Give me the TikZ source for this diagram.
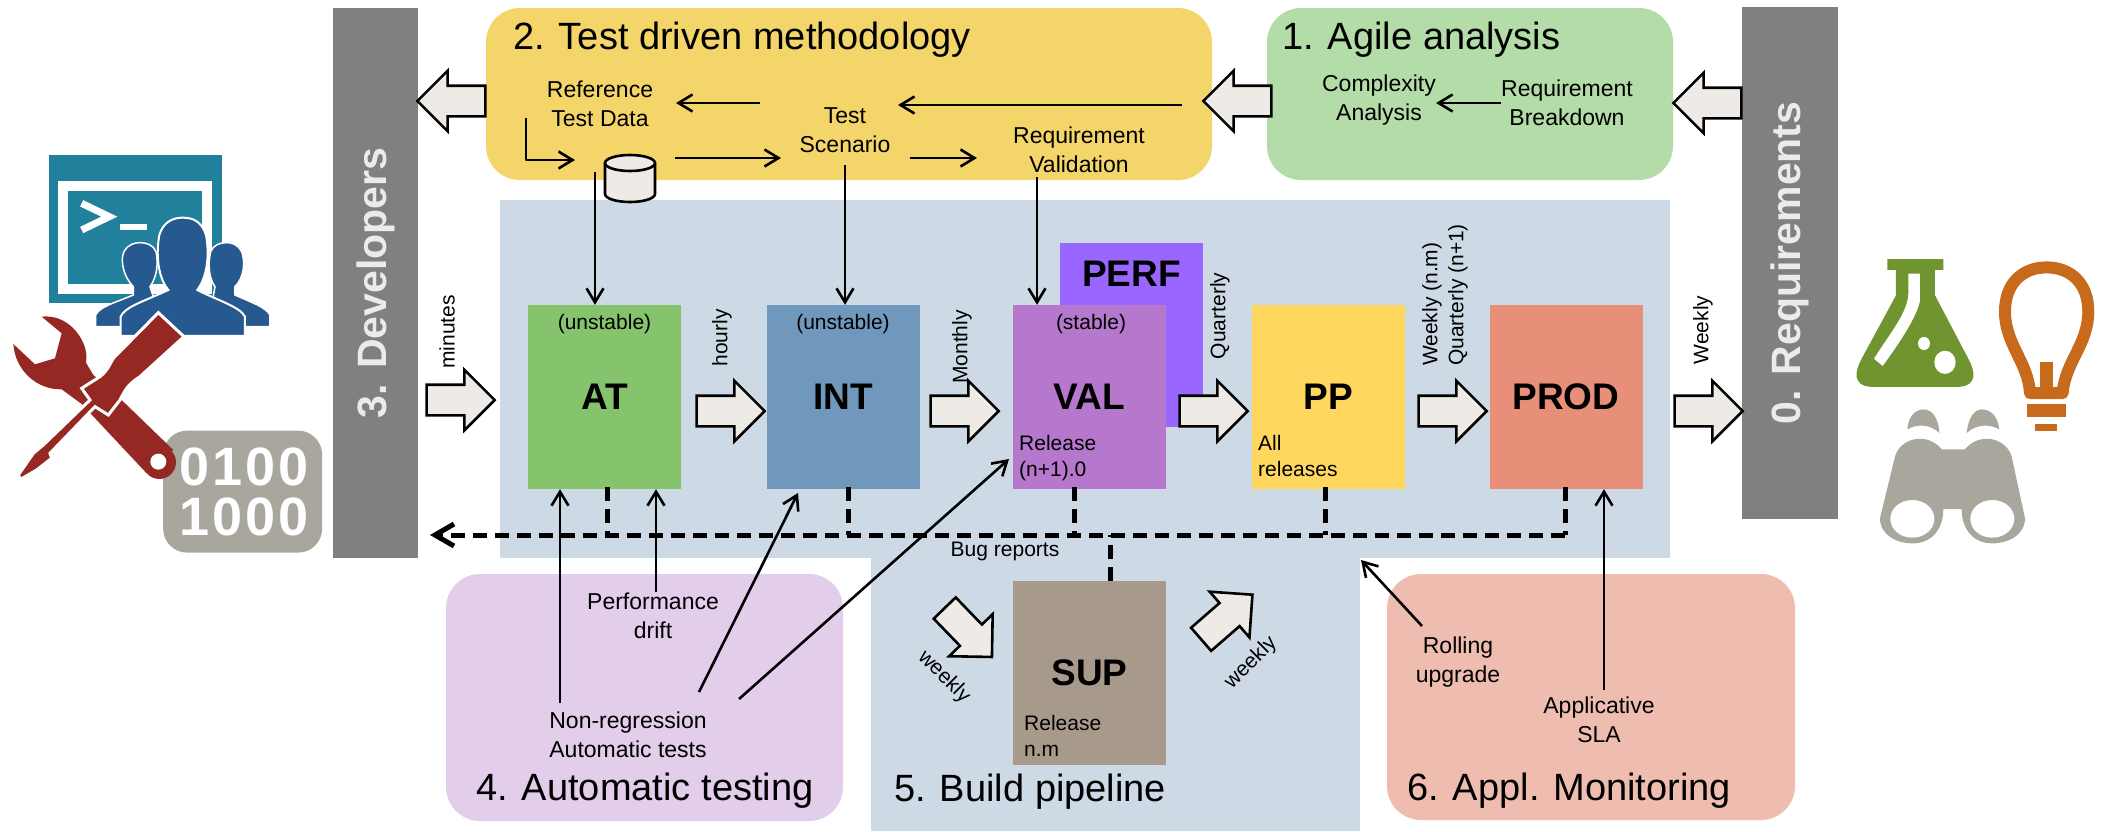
\documentclass[tikz,border=0pt]{standalone}
\usepackage{fontspec}
\setmainfont{Liberation Sans}
\usepackage{xcolor}
\usetikzlibrary{shapes.arrows, arrows.meta, positioning}
\definecolor{bgblue}{HTML}{CDDAE6}
\definecolor{panyellow}{HTML}{F4D56A}
\definecolor{pangreen}{HTML}{B4DCA8}
\definecolor{panpurple}{HTML}{E2CDEB}
\definecolor{pansalmon}{HTML}{EFBDB0}
\definecolor{bargrey}{HTML}{808080}
\definecolor{atgreen}{HTML}{85C46C}
\definecolor{intblue}{HTML}{7098BC}
\definecolor{valpurple}{HTML}{B678CC}
\definecolor{perfviolet}{HTML}{9966FF}
\definecolor{ppyellow}{HTML}{FFD75E}
\definecolor{prodred}{HTML}{E88F7A}
\definecolor{supbrown}{HTML}{A89A8A}
\definecolor{blockfill}{HTML}{EEEBE7}
\definecolor{termteal}{HTML}{21809C}
\definecolor{peopleblue}{HTML}{26598F}
\definecolor{toolred}{HTML}{962824}
\definecolor{icongrey}{HTML}{A9A79D}
\definecolor{flaskgreen}{HTML}{6F9430}
\definecolor{bulborange}{HTML}{C86A1C}
\tikzset{
	>={Straight Barb[length=14pt,width=17pt]},
	panel/.style={rectangle, rounded corners=34pt, inner sep=0pt},
	bar/.style={rectangle, fill=bargrey, text=white!92!black, inner sep=0pt, rotate=90, font=\fontsize{41}{48}\selectfont\bfseries},
	stage/.style={rectangle, inner sep=0pt, minimum width=153pt, minimum height=184pt, font=\fontsize{37}{44}\selectfont\bfseries},
	lbl/.style={inner sep=0pt, align=center, font=\fontsize{23}{29.5}\selectfont},
	smalllbl/.style={inner sep=0pt, align=left, font=\fontsize{21}{26}\selectfont},
	paneltitle/.style={inner sep=0pt, anchor=west, font=\fontsize{38}{44}\selectfont},
	block/.style={single arrow, draw=black, fill=blockfill, line width=2.6pt, inner xsep=0pt, inner ysep=14pt, minimum height=68pt, single arrow head extend=15pt},
	thin/.style={line width=2.6pt},
	bus/.style={line width=5pt, dash pattern=on 14pt off 8pt},
}
\begin{document}
\begin{tikzpicture}[x=1pt, y=-1pt]
	\useasboundingbox (0,0) rectangle (2107,831);

	\node[rectangle, fill=bgblue, minimum width=1170pt, minimum height=358pt] (flow) at (1085,379) {};
	\node[rectangle, fill=bgblue, minimum width=489pt, minimum height=273pt] (pipe) at (1115.5,694.5) {};
	\node[panel, fill=panyellow, minimum width=726pt, minimum height=172pt] (tdd) at (849,94) {};
	\node[panel, fill=pangreen, minimum width=406pt, minimum height=172pt] (agile) at (1470,94) {};
	\node[panel, fill=panpurple, minimum width=397pt, minimum height=247pt] (auto) at (644.5,697.5) {};
	\node[panel, fill=pansalmon, minimum width=408pt, minimum height=246pt] (mon) at (1591,697) {};
	\node[bar, minimum width=550pt, minimum height=85pt] (dev) at (375.5,283) {3. Developers};
	\node[bar, minimum width=512pt, minimum height=96pt] (req) at (1790,263) {0. Requirements};

	\draw (513,40) node[paneltitle] (ttdd) {2. Test driven methodology}
		(1282,40) node[paneltitle] (tagile) {1. Agile analysis}
		(476,791) node[paneltitle] (tauto) {4. Automatic testing}
		(894,792) node[paneltitle] (tpipe) {5. Build pipeline}
		(1407,791) node[paneltitle] (tmon) {6. Appl. Monitoring};

	\node[stage, fill=perfviolet, minimum width=143pt] (perf) at (1131.5,335) {};
	\node[stage, fill=atgreen] (at) at (604.5,397) {AT};
	\node[stage, fill=intblue] (int) at (843,397) {INT};
	\node[stage, fill=valpurple] (val) at (1089,397) {VAL};
	\node[stage, fill=ppyellow] (pp) at (1328,397) {PP};
	\node[stage, fill=prodred] (prod) at (1566,397) {PROD};
	\node[stage, fill=supbrown] (sup) at (1089.5,673) {SUP};
	\node[inner sep=0pt, font=\fontsize{37}{44}\selectfont\bfseries] (perft) at (1131.5,274) {PERF};

	\draw (604.5,324) node[smalllbl] (atnote) {(unstable)}
		(843,324) node[smalllbl] (intnote) {(unstable)}
		(1091,324) node[smalllbl] (valnote) {(stable)}
		(1019,458) node[smalllbl, anchor=west] (valrel) {Release\\(n+1).0}
		(1258,456) node[smalllbl, anchor=west] (pprel) {All\\releases}
		(1024,736) node[smalllbl, anchor=west] (suprel) {Release\\n.m};

	\draw (600,104) node[lbl] (refd) {Reference\\Test Data}
		(845,130) node[lbl] (tst) {Test\\Scenario}
		(1079,150) node[lbl] (rval) {Requirement\\Validation}
		(1379,100) node[lbl] (cplx) {Complexity\\Analysis}
		(1567,103) node[lbl] (rbrk) {Requirement\\Breakdown}
		(653,616) node[lbl] (pdrift) {Performance\\drift}
		(628,735) node[lbl] (nreg) {Non-regression\\Automatic tests}
		(1458,662) node[lbl] (roll) {Rolling\\upgrade}
		(1599,720) node[lbl] (sla) {Applicative\\SLA};

	\draw (447,332) node[smalllbl, rotate=90] (lmin) {minutes}
		(722,338) node[smalllbl, rotate=90] (lhour) {hourly}
		(962,347) node[smalllbl, rotate=90] (lmonth) {Monthly}
		(1220,316) node[smalllbl, rotate=90] (lqtr) {Quarterly}
		(1445,366) node[smalllbl, rotate=90, anchor=west] (lpp) {Weekly (n.m)\\Quarterly (n+1)}
		(1703,330) node[smalllbl, rotate=90] (lweek) {Weekly}
		(1005,551) node[smalllbl] (lbug) {Bug reports}
		(944,677) node[smalllbl, rotate=-45] (lwin) {weekly}
		(1251,663) node[smalllbl, rotate=45] (lwout) {weekly};

	\node[block] (b0) at (453,400) {};
	\node[block] (b1) at (723,411) {};
	\node[block] (b2) at (957,411) {};
	\node[block] (b3) at (1206,411) {};
	\node[block] (b4) at (1445,411) {};
	\node[block] (b5) at (1701,411) {};
	\node[block, rotate=180] (b6) at (1715,103) {};
	\node[block, rotate=180] (b7) at (1245,101) {};
	\node[block, rotate=180] (b8) at (459,101) {};
	\node[block, rotate=-46] (b9) at (963,627) {};
	\node[block, rotate=41] (b10) at (1221,622) {};

	% data store
	\coordinate (db) at (630,178);
	\draw[line width=2.6pt, fill=blockfill] (605,163) -- (605,194) arc[start angle=180, end angle=0, x radius=25, y radius=8] -- (655,163);
	\draw[line width=2.6pt, fill=blockfill] (630,163) ellipse (25 and 8);

	\coordinate (a1) at (1182,105);
	\coordinate (a2) at (898,105);
	\coordinate (a3) at (760,103);
	\coordinate (a4) at (676,103);
	\coordinate (a5) at (526,118);
	\coordinate (a6) at (575,160);
	\coordinate (a7) at (675,158);
	\coordinate (a8) at (781,158);
	\coordinate (a9) at (910,158);
	\coordinate (a10) at (977,158);
	\coordinate (a11) at (595,172);
	\coordinate (a12) at (845,165);
	\coordinate (a13) at (1037,177);
	\coordinate (n1) at (560,703);
	\coordinate (n2) at (699,692);
	\coordinate (n3) at (739,699);
	\coordinate (n4) at (1009,459);
	\coordinate (n5) at (798,493);
	\coordinate (p1) at (656,592);
	\coordinate (r1) at (1422,626);
	\coordinate (r2) at (1361,560);
	\coordinate (s1) at (1604,690);

	\draw[->, thin] (rbrk.west) -- (cplx.east |- rbrk.west);
	\draw[->, thin] (a1) -- (a2);
	\draw[->, thin] (a3) -- (a4);
	\draw[->, thin, line join=round] (a5) |- (a6);
	\draw[->, thin] (a7) -- (a8);
	\draw[->, thin] (a9) -- (a10);
	\draw[->, thin] (a11) -- (a11 |- at.north);
	\draw[->, thin] (a12) -- (a12 |- int.north);
	\draw[->, thin] (a13) -- (a13 |- val.north);
	\draw[->, thin] (n1) -- (n1 |- at.south);
	\draw[->, thin] (p1) -- (p1 |- at.south);
	\draw[->, thin] (n2) -- (n5);
	\draw[->, thin] (n3) -- (n4);
	\draw[->, thin] (r1) -- (r2);
	\draw[->, thin] (s1) -- (s1 |- prod.south);

	\coordinate (busr) at (1565,535);
	\coordinate (busl) at (430,535);
	\coordinate (atb) at (607,487);
	\coordinate (intb) at (848,487);
	\coordinate (vb) at (1074,487);
	\coordinate (ppb) at (1325,487);
	\coordinate (prb) at (1565,487);
	\coordinate (sb) at (1110,581);
	\draw[bus, -{Straight Barb[length=19pt,width=22pt]}] (busr) -- (busl);
	\draw[bus] (atb) -- (atb |- busr);
	\draw[bus] (intb) -- (intb |- busr);
	\draw[bus] (vb) -- (vb |- busr);
	\draw[bus] (ppb) -- (ppb |- busr);
	\draw[bus] (prb) -- (prb |- busr);
	\draw[bus] (sb) -- (sb |- busr);

	% icons on the left
	\begin{scope}[shift={(0,120)}, x=0.3333pt, y=-0.3333pt]
		\fill[termteal] (147,105) rectangle (665,550);
		\draw[white, line width=10pt] (190,197) rectangle (620,508);
		\draw[white, line width=7pt] (245,250) -- (328,290) -- (245,330);
		\draw[white, line width=6pt] (360,322) -- (440,322);
		\fill[peopleblue, draw=white, line width=1.5pt] (287,620) -- (287,585) .. controls (300,560) and (340,550) .. (400,525) -- (400,500) .. controls (370,470) and (360,420) .. (372,395) .. controls (385,372) and (405,368) .. (420,368) .. controls (440,368) and (460,375) .. (468,395) .. controls (478,440) and (465,480) .. (450,500) -- (460,530) -- (500,620) -- cycle;
		\fill[peopleblue, draw=white, line width=1.5pt] (810,620) -- (810,585) .. controls (795,560) and (760,550) .. (705,525) -- (705,500) .. controls (735,470) and (735,420) .. (725,395) .. controls (712,372) and (695,368) .. (680,368) .. controls (660,368) and (640,375) .. (632,395) .. controls (622,440) and (630,480) .. (645,500) -- (640,530) -- (600,620) -- cycle;
		\fill[peopleblue, draw=white, line width=2pt] (362,648) -- (362,590) .. controls (375,560) and (430,545) .. (505,510) .. controls (480,480) and (465,420) .. (478,345) .. controls (490,305) and (520,293) .. (548,293) .. controls (580,293) and (605,305) .. (618,345) .. controls (632,420) and (615,480) .. (592,510) .. controls (650,540) and (720,560) .. (735,590) -- (735,648) -- cycle;
		\node[rectangle, fill=icongrey, rounded corners=24pt, minimum width=159pt, minimum height=122pt] (bin) at (728,1115) {};
		\node[inner sep=0pt, align=center, text=white, font=\fontsize{54}{50}\selectfont\bfseries\addfontfeatures{LetterSpace=6}] (bits) at (732,1115) {0100\\1000};
		\fill[toolred] (40,672) .. controls (45,750) and (110,810) .. (185,808) -- (245,852) -- (440,1060) -- (520,990) -- (370,845) -- (280,765) -- (258,728) .. controls (270,670) and (210,580) .. (125,590) -- (185,640) -- (165,715) -- (105,733) -- cycle;
		\fill[toolred] (478,1027) circle (50);
		\fill[white] (475,1025) circle (24);
		\fill[toolred, draw=white, line width=3pt] (475,578) -- (552,650) -- (420,770) .. controls (390,790) and (380,800) .. (360,840) -- (325,885) -- (285,860) -- (150,1000) -- (155,1015) -- (110,1050) -- (62,1078) -- (55,1065) -- (100,1000) -- (130,975) -- (270,840) -- (245,805) -- (300,770) .. controls (325,750) and (330,730) .. (340,715) -- cycle;
	\end{scope}

	% icons on the right
	\begin{scope}[shift={(1660,0)}, x=0.3333pt, y=-0.3623pt]
		\fill[flaskgreen] (682,715) -- (850,715) -- (850,745) -- (825,745) -- (825,815) -- (925,990) .. controls (960,1050) and (930,1068) .. (890,1068) -- (640,1068) .. controls (600,1068) and (570,1050) .. (605,990) -- (708,815) -- (708,745) -- (682,745) -- cycle;
		\fill[white] (745,755) -- (780,755) -- (780,830) .. controls (770,880) and (700,970) .. (668,1010) -- (642,990) .. controls (690,920) and (745,860) .. (745,810) -- cycle;
		\fill[white] (792,948) circle (18);
		\fill[white] (855,1000) circle (32);
		\draw[bulborange, line width=12pt, line join=round] (1110,1085) .. controls (1105,1000) and (1035,950) .. (1035,860) .. controls (1035,780) and (1090,738) .. (1160,738) .. controls (1230,738) and (1285,780) .. (1285,860) .. controls (1285,950) and (1215,1000) .. (1208,1085) -- cycle;
		\fill[bulborange] (1140,1000) rectangle (1178,1085);
		\fill[bulborange] (1100,1115) rectangle (1218,1150);
		\fill[bulborange] (1125,1170) rectangle (1192,1190);
		\fill[icongrey] (742,1185) .. controls (745,1145) and (770,1130) .. (790,1130) .. controls (815,1130) and (835,1150) .. (838,1195) .. controls (810,1170) and (770,1170) .. cycle;
		\fill[icongrey] (920,1195) .. controls (925,1150) and (945,1130) .. (965,1130) .. controls (990,1130) and (1012,1145) .. (1018,1185) .. controls (990,1170) and (950,1170) .. cycle;
		\fill[icongrey] (660,1430) -- (705,1260) .. controls (720,1210) and (800,1190) .. (845,1240) -- (915,1240) .. controls (960,1190) and (1040,1210) .. (1055,1260) -- (1095,1430) .. controls (1095,1480) and (1040,1500) .. (995,1500) .. controls (950,1500) and (905,1470) .. (905,1405) -- (850,1405) .. controls (850,1470) and (805,1500) .. (760,1500) .. controls (715,1500) and (660,1480) .. (660,1430) -- cycle;
		\fill[white] (757,1432) ellipse (66 and 52);
		\fill[white] (997,1432) ellipse (66 and 52);
	\end{scope}
\end{tikzpicture}
\end{document}
